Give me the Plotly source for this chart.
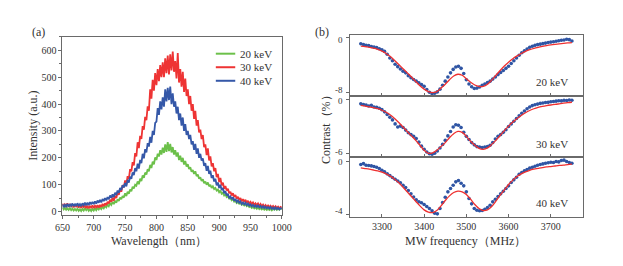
import plotly.graph_objects as go

# ---------------- data: (a) luminescence spectra ----------------
wavelength = list(range(650, 1001, 2))

int_30kev = [30, 18, 27, 21, 31, 17, 28, 20, 26, 16, 27, 19, 24, 15, 25, 14, 24, 17, 22, 13,
             22, 12, 20, 15, 23, 13, 22, 16, 24, 15, 25, 17, 29, 20, 31, 24, 36, 30, 44, 36,
             52, 40, 58, 50, 72, 62, 84, 74, 98, 90, 116, 100, 132, 122, 158, 150, 184, 172, 218, 205,
             258, 236, 282, 270, 318, 305, 352, 340, 392, 375, 455, 420, 490, 450, 515, 470, 530, 485, 545, 500,
             555, 500, 570, 515, 580, 510, 585, 525, 595, 520, 560, 495, 590, 480, 530, 465, 520, 445, 495, 430,
             455, 400, 430, 375, 400, 345, 375, 320, 340, 295, 305, 270, 285, 240, 250, 210, 235, 190, 205, 168,
             180, 150, 162, 128, 140, 110, 125, 98, 108, 85, 95, 78, 85, 68, 74, 60, 68, 54, 62, 48,
             55, 44, 50, 38, 46, 36, 44, 33, 40, 30, 36, 28, 34, 25, 31, 24, 30, 21, 28, 20,
             26, 18, 24, 17, 23, 16, 22, 15, 21, 14, 20, 13, 18, 12, 17, 14]

int_40kev = [28, 16, 25, 19, 29, 18, 28, 21, 30, 20, 29, 21, 31, 22, 28, 20, 31, 24, 33, 23,
             33, 24, 35, 27, 36, 28, 38, 30, 41, 33, 44, 34, 47, 39, 50, 42, 54, 46, 60, 51,
             64, 54, 70, 62, 78, 70, 88, 80, 98, 90, 106, 94, 118, 108, 130, 122, 146, 136, 162, 150,
             178, 160, 192, 180, 215, 198, 232, 220, 255, 242, 278, 256, 300, 285, 330, 335, 385, 360, 410, 380,
             425, 390, 455, 410, 460, 415, 465, 400, 440, 390, 410, 365, 390, 340, 365, 320, 350, 300, 325, 285,
             300, 270, 285, 250, 262, 230, 252, 215, 235, 200, 215, 190, 198, 170, 180, 152, 170, 140, 152, 125,
             135, 112, 122, 98, 108, 88, 100, 80, 88, 68, 76, 60, 66, 50, 56, 46, 54, 40, 47, 36,
             42, 33, 38, 28, 34, 27, 33, 24, 30, 22, 27, 20, 25, 18, 23, 17, 23, 16, 21, 14,
             20, 13, 18, 12, 17, 11, 17, 10, 15, 9, 15, 9, 14, 8, 13, 10]

int_20kev = [15, 8, 14, 7, 12, 6, 13, 5, 11, 4, 10, 4, 11, 3, 9, 2, 10, 4, 12, 5,
             11, 3, 9, 2, 10, 4, 12, 5, 13, 8, 15, 9, 18, 12, 21, 16, 26, 20, 31, 25,
             36, 28, 40, 33, 46, 40, 52, 46, 58, 52, 68, 58, 74, 66, 82, 76, 92, 86, 100, 96,
             112, 102, 122, 114, 134, 126, 145, 138, 158, 150, 174, 162, 186, 176, 202, 192, 215, 205, 228, 212,
             238, 218, 250, 222, 258, 225, 252, 220, 240, 212, 228, 205, 220, 192, 208, 185, 200, 175, 188, 168,
             176, 158, 165, 148, 155, 140, 150, 132, 138, 122, 128, 114, 120, 106, 112, 100, 108, 94, 100, 88,
             94, 84, 88, 78, 82, 72, 78, 66, 70, 60, 64, 54, 58, 48, 50, 42, 47, 37, 40, 32,
             36, 29, 32, 25, 28, 23, 27, 20, 24, 17, 20, 14, 18, 12, 16, 10, 15, 9, 13, 8,
             12, 7, 11, 6, 10, 6, 11, 5, 10, 7, 11, 6, 12, 7, 11, 9]

spectra = [("20 keV", int_20kev, "#6cc04a"),
           ("30 keV", int_30kev, "#ee3434"),
           ("40 keV", int_40kev, "#3558a8")]

# ---------------- data: (b) ODMR contrast ----------------
freq_dots = [3250 + 6.25 * i for i in range(81)]
freq_fit = list(range(3250, 3751, 10))

dots_20kev = [-0.90, -1.00, -1.12, -1.15, -1.28, -1.38, -1.45, -1.62, -1.75, -2.00,
              -2.40, -2.95, -3.35, -3.85, -4.20, -4.55, -4.85, -5.10, -5.50, -5.80,
              -6.05, -6.30, -6.55, -6.80, -7.05, -7.50, -7.90, -8.10, -8.05, -7.85,
              -7.45, -6.90, -6.30, -5.70, -5.10, -4.60, -4.25, -4.15, -4.45, -5.20,
              -6.10, -6.70, -7.10, -7.35, -7.30, -7.15, -6.90, -6.70, -6.50, -6.30,
              -6.00, -5.70, -5.35, -5.05, -4.75, -4.45, -4.15, -3.75, -3.35, -2.95,
              -2.55, -2.20, -1.90, -1.65, -1.40, -1.25, -1.12, -1.02, -0.95, -0.88,
              -0.80, -0.70, -0.65, -0.60, -0.52, -0.45, -0.38, -0.35, -0.25, -0.30, -0.50]

fit_20kev = [-1.22, -1.30, -1.40, -1.52, -1.70, -1.95, -2.30, -2.75, -3.30, -3.90,
             -4.50, -5.10, -5.70, -6.35, -6.95, -7.45, -7.80, -7.95, -7.80, -7.30,
             -6.75, -6.10, -5.55, -5.30, -5.45, -5.95, -6.45, -6.85, -7.05, -7.05,
             -6.75, -6.15, -5.45, -4.75, -4.10, -3.55, -3.05, -2.65, -2.30, -2.00,
             -1.75, -1.55, -1.40, -1.27, -1.15, -1.05, -0.97, -0.90, -0.83, -0.77, -0.72]

dots_30kev = [-0.45, -0.52, -0.58, -0.70, -0.62, -0.80, -0.85, -0.95, -1.10, -1.35,
              -1.65, -1.95, -2.25, -2.70, -3.05, -2.95, -3.10, -3.40, -3.70, -3.90,
              -4.10, -4.35, -4.75, -5.20, -5.55, -5.85, -6.05, -6.10, -6.00, -5.75,
              -5.40, -5.00, -4.55, -4.05, -3.55, -3.05, -2.80, -2.85, -3.10, -3.65,
              -4.10, -4.45, -4.80, -5.05, -5.25, -5.30, -5.35, -5.30, -5.25, -5.10,
              -4.80, -4.40, -4.10, -3.90, -3.65, -3.35, -3.00, -2.70, -2.40, -2.10,
              -1.80, -1.50, -1.25, -1.00, -0.80, -0.65, -0.55, -0.48, -0.40, -0.35,
              -0.30, -0.28, -0.22, -0.18, -0.15, -0.10, -0.12, -0.06, -0.08, -0.02, -0.05]

fit_30kev = [-0.63, -0.70, -0.78, -0.88, -1.00, -1.17, -1.40, -1.70, -2.10, -2.55,
             -3.05, -3.55, -4.05, -4.55, -5.10, -5.65, -6.00, -5.95, -5.65, -5.25,
             -4.80, -4.25, -3.80, -3.55, -3.65, -4.10, -4.65, -5.10, -5.45, -5.55,
             -5.40, -5.00, -4.55, -4.00, -3.45, -2.95, -2.50, -2.10, -1.75, -1.45,
             -1.20, -1.00, -0.85, -0.74, -0.65, -0.58, -0.52, -0.45, -0.38, -0.32, -0.27]

dots_40kev = [-0.25, -0.18, -0.30, -0.32, -0.35, -0.40, -0.45, -0.55, -0.68, -0.80,
              -0.95, -1.08, -1.22, -1.35, -1.48, -1.62, -1.80, -1.98, -2.20, -2.45,
              -2.68, -2.90, -3.05, -3.12, -3.25, -3.40, -3.55, -3.72, -3.90, -3.95,
              -3.55, -3.10, -2.70, -2.30, -2.05, -1.80, -1.55, -1.45, -1.65, -1.85,
              -2.30, -2.80, -3.20, -3.55, -3.68, -3.72, -3.70, -3.60, -3.48, -3.30,
              -3.05, -2.85, -2.65, -2.45, -2.25, -2.05, -1.85, -1.60, -1.40, -1.20,
              -0.98, -0.85, -0.72, -0.62, -0.52, -0.45, -0.38, -0.30, -0.25, -0.20,
              -0.15, -0.12, -0.08, -0.10, -0.02, -0.05, 0.05, 0.08, -0.02, -0.10, -0.15]

fit_40kev = [-0.50, -0.55, -0.60, -0.66, -0.73, -0.82, -0.95, -1.12, -1.35, -1.62,
             -1.95, -2.30, -2.65, -3.00, -3.35, -3.65, -3.82, -3.85, -3.70, -3.35,
             -2.95, -2.60, -2.35, -2.25, -2.30, -2.50, -2.85, -3.25, -3.55, -3.70,
             -3.65, -3.40, -3.00, -2.55, -2.15, -1.75, -1.42, -1.15, -0.95, -0.80,
             -0.68, -0.60, -0.54, -0.48, -0.43, -0.40, -0.36, -0.32, -0.29, -0.25, -0.22]

odmr = [("20 keV", dots_20kev, fit_20kev, [0, -8], ["0", "-8"], [-8.43, 0.43]),
        ("30 keV", dots_30kev, fit_30kev, [0, -6], ["0", "-6"], [-6.44, 0.44]),
        ("40 keV", dots_40kev, fit_40kev, [0, -4], ["0", "-4"], [-4.15, 0.30])]

# ---------------- figure ----------------
W, H = 623, 266
FONT = "Liberation Serif, Times New Roman, serif"
FRAME = "#6a6a6a"
TICKC = "#333333"


def px(x):
    return x / W


def py(y):
    return (H - y) / H


fig = go.Figure()

for name, vals, col in spectra:
    fig.add_trace(go.Scatter(x=wavelength, y=vals, mode="lines", name=name,
                             line=dict(color=col, width=1.8), xaxis="x", yaxis="y",
                             showlegend=False))

axis_ids = [("x2", "y2"), ("x3", "y3"), ("x4", "y4")]
for (name, dots, fit, tv, tt, rng), (xa, ya) in zip(odmr, axis_ids):
    fig.add_trace(go.Scatter(x=freq_dots, y=dots, mode="markers",
                             marker=dict(color="#2f55a4", size=3.6),
                             xaxis=xa, yaxis=ya, showlegend=False))
    fig.add_trace(go.Scatter(x=freq_fit, y=fit, mode="lines", line_shape="spline",
                             line=dict(color="#ee3030", width=1.3),
                             xaxis=xa, yaxis=ya, showlegend=False))

common = dict(showline=True, linecolor=FRAME, linewidth=1, mirror=True,
              showgrid=False, zeroline=False, tickfont=dict(family=FONT, size=10, color=TICKC),
              tickcolor=FRAME)

layout = dict(
    width=W, height=H, autosize=False,
    margin=dict(l=0, r=0, t=0, b=0),
    paper_bgcolor="white", plot_bgcolor="white",
    font=dict(family=FONT, color=TICKC),
    xaxis=dict(domain=[px(56), px(282)], range=[650, 1000], tickvals=list(range(650, 1001, 50)),
               ticks="outside", ticklen=3, minor=dict(dtick=25, tick0=650, ticks="outside", ticklen=2, tickcolor=FRAME),
               anchor="y", **common),
    yaxis=dict(domain=[py(217), py(37)], range=[-11, 651], tickvals=list(range(0, 601, 100)),
               ticks="outside", ticklen=3, minor=dict(dtick=50, tick0=0, ticks="outside", ticklen=2, tickcolor=FRAME),
               anchor="x", **common),
)

doms = [(py(97), py(35)), (py(159), py(97)), (py(219), py(159))]
for i, ((name, dots, fit, tv, tt, rng), (xa, ya), dom) in enumerate(zip(odmr, axis_ids, doms)):
    xk = "xaxis" + xa[1:]
    yk = "yaxis" + ya[1:]
    layout[xk] = dict(domain=[px(352), px(592)], range=[3224, 3776],
                      tickvals=[3300, 3400, 3500, 3600, 3700],
                      showticklabels=(i == 2), ticks="inside", ticklen=3,
                      anchor=ya, **common)
    layout[yk] = dict(domain=list(dom), range=rng, tickvals=tv, showticklabels=False,
                      ticks="outside", ticklen=3, anchor=xa, **common)

fig.update_layout(**layout)

# tick labels of the stacked (b) panels, nudged apart where neighbouring panels meet
for (name, dots, fit, tv, tt, rng), dom in zip(odmr, doms):
    y_top_px = H - dom[1] * H
    y_bot_px = H - dom[0] * H
    fig.add_annotation(text=tt[0], xref="paper", yref="paper", x=px(347), y=py(y_top_px + 5),
                       xanchor="right", yanchor="middle", showarrow=False,
                       font=dict(family=FONT, size=9, color=TICKC))
    fig.add_annotation(text=tt[1], xref="paper", yref="paper", x=px(347), y=py(y_bot_px - 5.5),
                       xanchor="right", yanchor="middle", showarrow=False,
                       font=dict(family=FONT, size=9, color=TICKC))

# legend of panel (a)
leg_rows = [54.3, 68.0, 81.7]
for (name, vals, col), yy in zip(spectra, leg_rows):
    fig.add_shape(type="line", xref="paper", yref="paper", x0=px(214), x1=px(234),
                  y0=py(yy), y1=py(yy), line=dict(color=col, width=2))
    fig.add_annotation(text=name, xref="paper", yref="paper", x=px(237), y=py(yy),
                       xanchor="left", yanchor="middle", showarrow=False,
                       font=dict(family=FONT, size=11, color=TICKC))

# energy labels in panel (b)
for (name, *_), yy in zip(odmr, [83, 145.5, 205]):
    fig.add_annotation(text=name, xref="paper", yref="paper", x=px(560), y=py(yy),
                       xanchor="center", yanchor="middle", showarrow=False,
                       font=dict(family=FONT, size=11, color=TICKC))

texts = [
    ("(a)", 31, 32, 0, 12),
    ("(b)", 323, 32, 0, 12),
    ("Intensity (a.u.)", 25, 127, -90, 12),
    ("Wavelength（nm）", 155, 244, 0, 12),
    ("Contrast（%）", 327, 128, -90, 12),
    ("MW frequency（MHz）", 471, 244, 0, 12),
]
for t, x, y, ang, fs in texts:
    fig.add_annotation(text=t, xref="paper", yref="paper", x=px(x), y=py(y),
                       xanchor="center", yanchor="middle", showarrow=False, textangle=ang,
                       font=dict(family=FONT, size=fs, color=TICKC))

fig.write_html("out.html", config={"displayModeBar": False},
               post_script="document.body.style.margin='0';document.body.style.padding='0';")
